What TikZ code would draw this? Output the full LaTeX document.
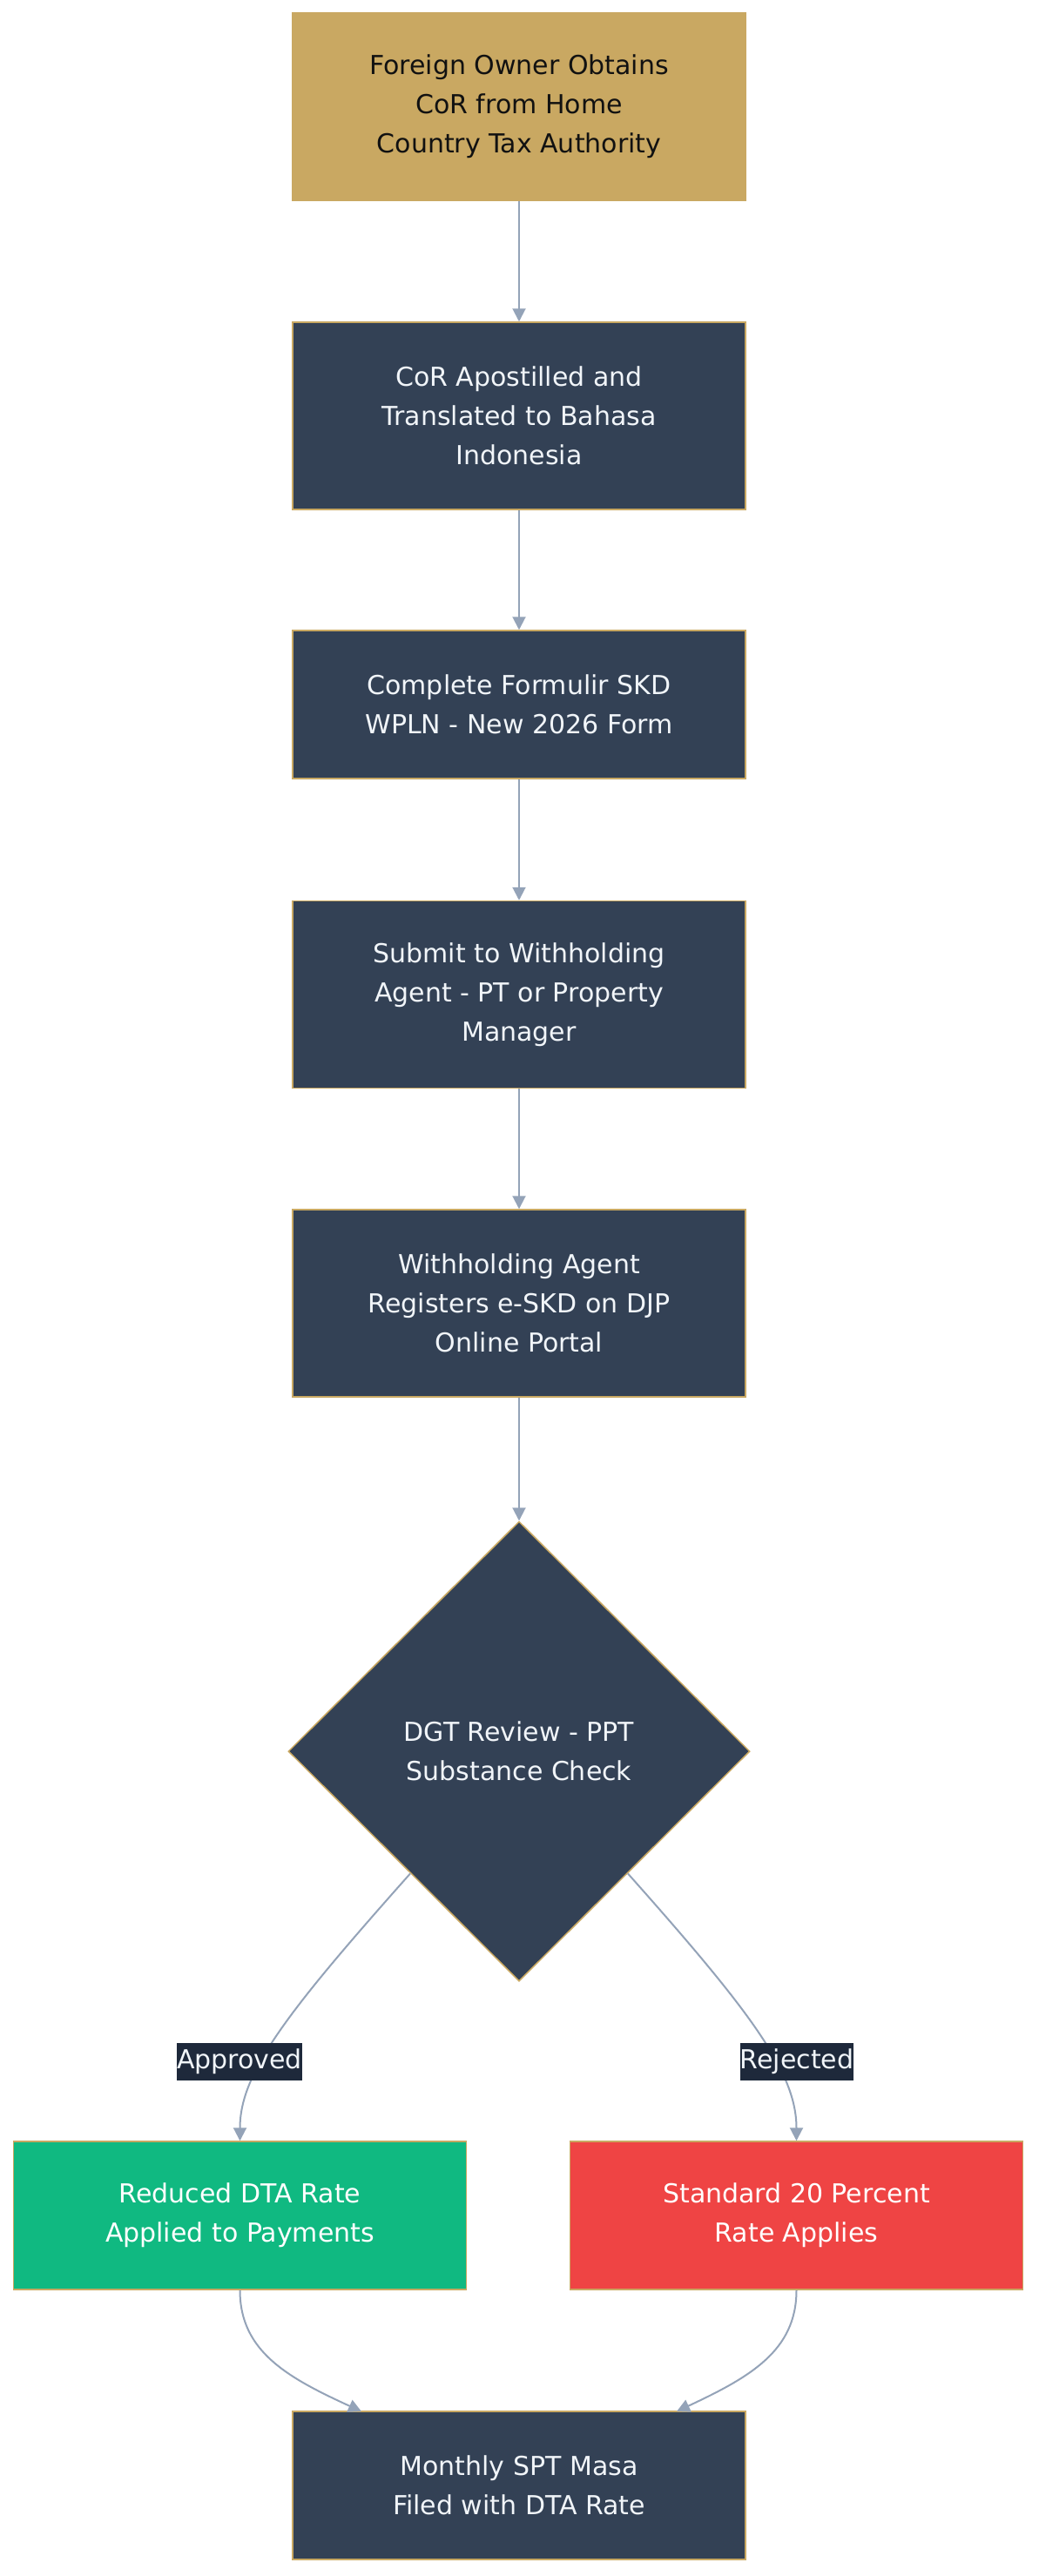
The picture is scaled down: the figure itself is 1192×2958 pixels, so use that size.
\documentclass[tikz,border=0pt]{standalone}
\usepackage{fontspec}
\setmainfont{DejaVu Sans}
\usetikzlibrary{shapes.geometric,arrows.meta,calc}
\definecolor{gold}{HTML}{C9A862}
\definecolor{slate}{HTML}{334155}
\definecolor{labelbg}{HTML}{1E293B}
\definecolor{edgec}{HTML}{94A3B8}
\definecolor{okgreen}{HTML}{10B981}
\definecolor{badred}{HTML}{EF4444}
\definecolor{lighttext}{HTML}{F1F5F9}
\definecolor{darktext}{HTML}{111111}
\tikzset{
  boxbase/.style={rectangle, draw=gold, line width=1.5pt, inner sep=0pt, align=center,
    minimum width=520pt, font=\fontsize{30}{45}\selectfont},
  darkbox/.style={boxbase, fill=slate, text=lighttext},
  goldbox/.style={boxbase, fill=gold, text=darktext},
  greenbox/.style={boxbase, fill=okgreen, text=white},
  redbox/.style={boxbase, fill=badred, text=white},
  tall/.style={minimum height=215pt},
  short/.style={minimum height=170pt},
  decision/.style={diamond, draw=gold, line width=1.5pt, fill=slate, text=lighttext, inner sep=0pt,
    minimum width=530pt, minimum height=528pt, align=center, font=\fontsize{30}{45}\selectfont},
  edge/.style={draw=edgec, line width=2pt, -{Triangle[length=15pt,width=15pt]}},
  edgelabel/.style={fill=labelbg, text=lighttext, inner xsep=0pt, inner ysep=0pt,
    minimum height=43pt, font=\fontsize{30}{36}\selectfont}
}
\begin{document}
\begin{tikzpicture}[x=1pt,y=-1pt]
\path[use as bounding box, fill=white] (0,0) rectangle (1192,2958);
\node[goldbox, tall] (b1) at (596,122.5) {Foreign Owner Obtains\\CoR from Home\\Country Tax Authority};
\node[darkbox, tall] (b2) at (596,477.5) {CoR Apostilled and\\Translated to Bahasa\\Indonesia};
\node[darkbox, short] (b3) at (596,809) {Complete Formulir SKD\\WPLN - New 2026 Form};
\node[darkbox, tall] (b4) at (596,1142) {Submit to Withholding\\Agent - PT or Property\\Manager};
\node[darkbox, tall] (b5) at (596,1496.5) {Withholding Agent\\Registers e-SKD on DJP\\Online Portal};
\node[decision] (d) at (596,2011) {DGT Review - PPT\\Substance Check};
\node[greenbox, short] (ra) at (275.5,2544) {Reduced DTA Rate\\Applied to Payments};
\node[redbox, short] (rb) at (914.5,2544) {Standard 20 Percent\\Rate Applies};
\node[darkbox, short] (m) at (596,2854) {Monthly SPT Masa\\Filed with DTA Rate};

\draw[edge] (b1.south) -- (b2.north);
\draw[edge] (b2.south) -- (b3.north);
\draw[edge] (b3.south) -- (b4.north);
\draw[edge] (b4.south) -- (b5.north);
\draw[edge] (b5.south) -- (d.north);

\coordinate (dl) at ($(d.west)!0.53!(d.south)$);
\coordinate (dr) at ($(d.east)!0.53!(d.south)$);
\coordinate (ma) at (415,2769);
\coordinate (mb) at (777,2769);

\draw[edge] (dl) .. controls (330,2310) and (275.5,2380) .. (ra.north);
\draw[edge] (dr) .. controls (862,2310) and (914.5,2380) .. (rb.north);
\draw[edge] (ra.south) .. controls (275.5,2700) and (330,2730) .. (ma);
\draw[edge] (rb.south) .. controls (914.5,2700) and (860,2730) .. (mb);

\node[edgelabel] (la) at (275,2367) {Approved};
\node[edgelabel] (lb) at (915,2367) {Rejected};
\end{tikzpicture}
\end{document}
